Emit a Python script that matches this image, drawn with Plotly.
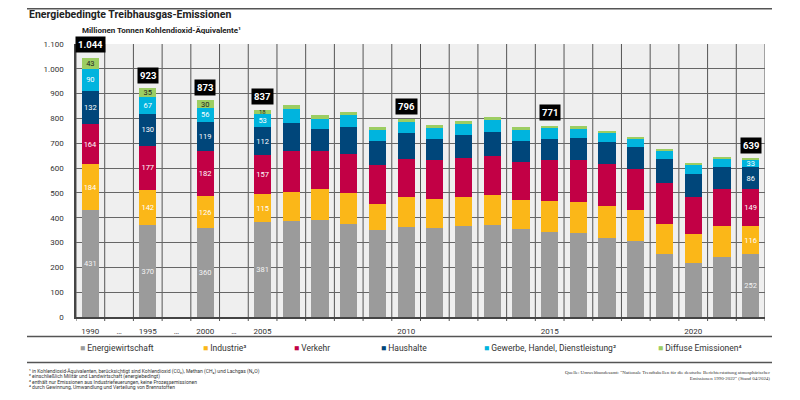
import plotly.graph_objects as go

# data (Mio. t CO2-Äquivalente)
years = [1990, 1995, 2000, 2005, 2006, 2007, 2008, 2009, 2010, 2011, 2012,
         2013, 2014, 2015, 2016, 2017, 2018, 2019, 2020, 2021, 2022]
energiewirtschaft = [431, 370, 360, 381, 387, 392, 373, 349, 361, 357, 368,
                     372, 355, 341, 337, 318, 306, 255, 216, 243, 252]
industrie = [184, 142, 126, 115, 118, 124, 126, 108, 123, 120, 117,
             119, 117, 125, 128, 128, 124, 121, 118, 125, 116]
verkehr = [164, 177, 182, 157, 162, 154, 159, 154, 152, 154, 154,
           156, 154, 165, 166, 169, 166, 165, 148, 146, 149]
haushalte = [132, 130, 119, 112, 113, 86, 106, 98, 107, 88, 94,
             100, 83, 88, 92, 90, 89, 95, 96, 91, 86]
gewerbe = [90, 67, 56, 53, 58, 42, 48, 44, 43, 44, 43,
           46, 44, 45, 37, 38, 36, 35, 37, 35, 33]
diffuse = [43, 35, 30, 18, 18, 15, 14, 13, 10, 12, 13,
           12, 11, 7, 8, 8, 6, 4, 4, 3, 3]

total_years = [1990, 1995, 2000, 2005, 2010, 2015, 2022]
total_values = [1044, 923, 873, 837, 796, 771, 639]
labelled_years = [1990, 1995, 2000, 2005, 2022]

tick_labels = ["1990", "…", "1995", "…", "2000", "…", "2005", "2010", "2015", "2020"]

series = [
    ("Energiewirtschaft", energiewirtschaft, "#9b9b9b", "#f4f4f4"),
    ("Industrie³", industrie, "#fbb718", "white"),
    ("Verkehr", verkehr, "#c20045", "white"),
    ("Haushalte", haushalte, "#00467a", "white"),
    ("Gewerbe, Handel, Dienstleistung²", gewerbe, "#00b4de", "white"),
    ("Diffuse Emissionen⁴", diffuse, "#9ccd62", "#222222"),
]

footnotes = [
    "¹ in Kohlendioxid-Äquivalenten, berücksichtigt sind Kohlendioxid (CO₂), Methan (CH₄) und Lachgas (N₂O)",
    "² einschließlich Militär und Landwirtschaft (energiebedingt)",
    "³ enthält nur Emissionen aus Industriefeuerungen, keine Prozessemissionen",
    "⁴ durch Gewinnung, Umwandlung und Verteilung von Brennstoffen",
]
source = ('Quelle: Umweltbundesamt: "Nationale Trendtabellen für die deutsche Berichterstattung atmosphärischer<br>'
          'Emissionen 1990-2022" (Stand 04/2024)')

# page has an 8px body margin, so the figure is 8px smaller than the window
OFF = 8
W, H = 800 - OFF, 400 - OFF
L, R, T, B = 76 - OFF, 35, 44 - OFF, 83
PW, PH = W - L - R, H - T - B
FONT = "Roboto, Liberation Sans, sans-serif"


def fx(px):
    # window pixel -> paper x
    return (px - OFF - L) / PW


def fy(py):
    # window pixel -> paper y
    return (PH + T - (py - OFF)) / PH


def slot(year):
    # 1990/1995/2000 separated by "..." gaps, yearly from 2005 on
    if year <= 2005:
        return (year - 1990) // 5 * 2
    return 6 + (year - 2005)


xs = [slot(y) for y in years]
tick_vals = [0, 1, 2, 3, 4, 5, 6, slot(2010), slot(2015), slot(2020)]

fig = go.Figure()
for name, vals, color, tcolor in series:
    texts = [str(v) if (y in labelled_years and v >= 10) else "" for y, v in zip(years, vals)]
    sizes = [6 if v < 25 else 7.5 for v in vals]
    fig.add_trace(go.Bar(
        x=xs, y=vals, name=name, width=0.6,
        marker=dict(color=color, line=dict(width=0)),
        text=texts, textposition="inside", insidetextanchor="middle",
        textangle=0, constraintext="none",
        textfont=dict(family=FONT, size=sizes, color=tcolor),
        hoverinfo="skip", showlegend=False,
    ))

annotations = []
sums = dict(zip(years, [sum(v) for v in zip(*[s[1] for s in series])]))
for y, v in zip(total_years, total_values):
    annotations.append(dict(
        x=slot(y), y=sums[y], yshift=13, text="<b>" + f"{v:,}".replace(",", ".") + "</b>",
        showarrow=False, bgcolor="black", borderpad=2,
        font=dict(family=FONT, size=9.5, color="white"),
    ))

# title and unit
annotations.append(dict(xref="paper", yref="paper", x=fx(27), y=fy(14.5), xanchor="left", yanchor="middle",
                        text="<b>Energiebedingte Treibhausgas-Emissionen</b>", showarrow=False,
                        font=dict(family=FONT, size=10.5, color="#222")))
annotations.append(dict(xref="paper", yref="paper", x=fx(80), y=fy(31), xanchor="left", yanchor="middle",
                        text="<b>Millionen Tonnen Kohlendioxid-Äquivalente¹</b>", showarrow=False,
                        font=dict(family=FONT, size=8, color="#222")))

# legend as annotations
legend_px = [78, 201, 292, 379, 482, 656]
for (name, vals, color, tcolor), px in zip(series, legend_px):
    annotations.append(dict(xref="paper", yref="paper", x=fx(px), y=fy(348), xanchor="left", yanchor="middle",
                            text=f'<span style="color:{color}">■</span> {name}', showarrow=False,
                            font=dict(family=FONT, size=8.5, color="#333")))

for i, t in enumerate(footnotes):
    annotations.append(dict(xref="paper", yref="paper", x=fx(27), y=fy(371.5 + i * 5), xanchor="left",
                            yanchor="middle", text=t, showarrow=False,
                            font=dict(family=FONT, size=5, color="#333")))
annotations.append(dict(xref="paper", yref="paper", x=fx(772), y=fy(375.5), xanchor="right", yanchor="middle",
                        text=source, showarrow=False, align="right",
                        font=dict(family="Liberation Serif, serif", size=4.9, color="#333")))

shapes = []
for k in range(25):
    shapes.append(dict(type="line", xref="x", yref="paper", x0=k - 0.5, x1=k - 0.5, y0=fy(321), y1=1,
                       line=dict(color="#555", width=1), layer="below"))
for py in [8.7, 336.5, 362.5]:
    shapes.append(dict(type="line", xref="paper", yref="paper", x0=fx(27), x1=fx(772), y0=fy(py), y1=fy(py),
                       line=dict(color="#555", width=1.5)))

fig.update_layout(
    width=W, height=H, barmode="stack",
    margin=dict(l=L, r=R, t=T, b=B, pad=0),
    paper_bgcolor="white", plot_bgcolor="#efefef",
    separators=",.",
    font=dict(family=FONT, size=8, color="#333"),
    xaxis=dict(range=[-0.5, 23.5], tickvals=tick_vals, ticktext=tick_labels, showgrid=False,
               zeroline=False, ticks="", ticklabelstandoff=6, tickfont=dict(size=8, color="#333"),
               showline=True, linecolor="#444", linewidth=1.5, fixedrange=True),
    yaxis=dict(range=[0, 1100], dtick=100, tickformat=",d", showgrid=True, gridcolor="#666", gridwidth=1,
               zeroline=False, showline=True, linecolor="#444", linewidth=1.5, ticks="",
               ticklabelstandoff=9, tickfont=dict(size=8, color="#333"), fixedrange=True),
    annotations=annotations, shapes=shapes, showlegend=False,
)

fig.write_html("out.html")
